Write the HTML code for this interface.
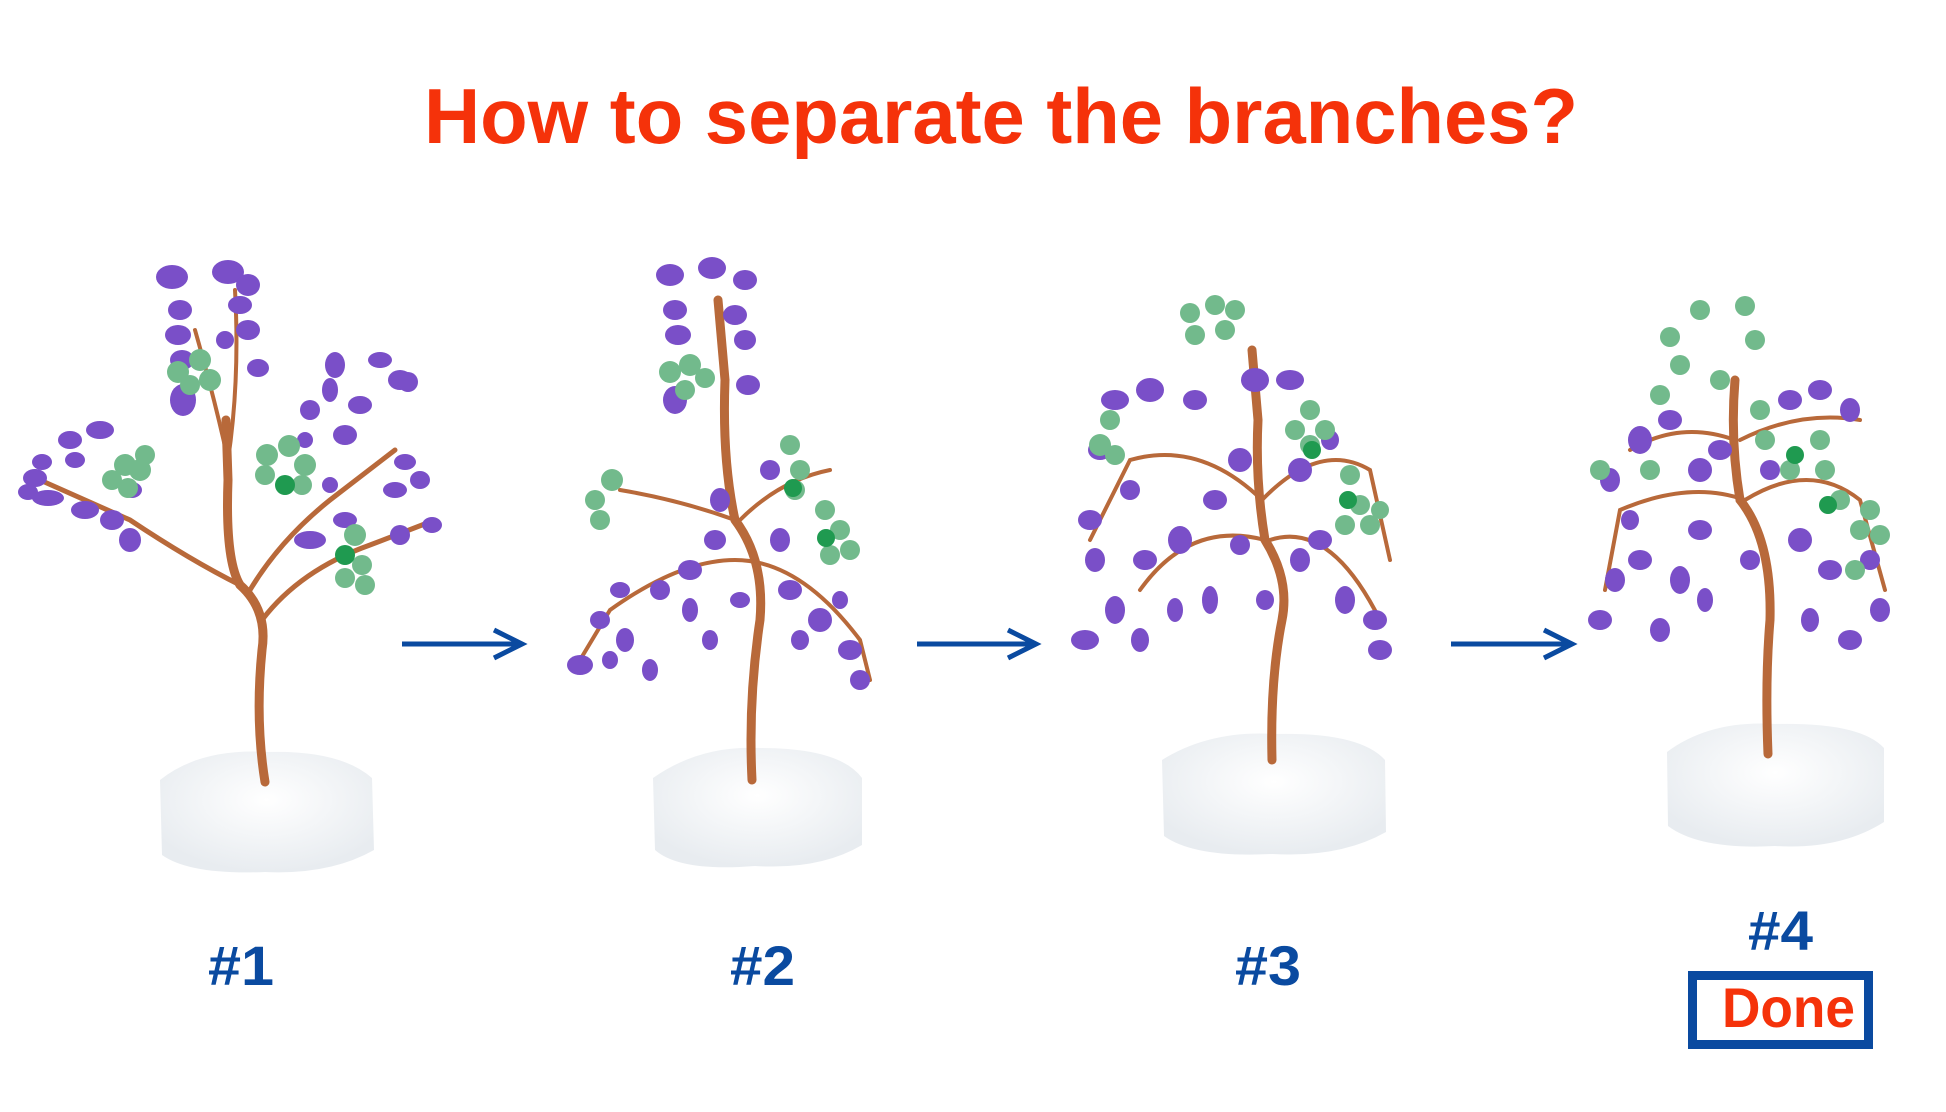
<!DOCTYPE html>
<html><head><meta charset="utf-8"><style>
html,body{margin:0;padding:0;background:#fff;width:1946px;height:1112px;overflow:hidden}
svg{display:block}
</style></head><body>
<svg width="1946" height="1112" viewBox="0 0 1946 1112" xmlns="http://www.w3.org/2000/svg">
<defs>
<radialGradient id="base" cx="50%" cy="40%" r="60%"><stop offset="0" stop-color="#ffffff"/><stop offset="1" stop-color="#e8ecf0"/></radialGradient>
</defs>
<rect width="1946" height="1112" fill="#fff"/>
<text x="424" y="143" font-family="Liberation Sans, sans-serif" font-weight="bold" font-size="78" fill="#f5320a" textLength="1154" lengthAdjust="spacingAndGlyphs">How to separate the branches?</text>

<!-- bases -->
<path d="M160 780 Q200 748 268 752 Q340 750 372 778 L374 850 Q330 875 265 872 Q190 875 162 855 Z" fill="url(#base)"/>
<path d="M653 778 Q700 745 760 748 Q840 748 862 778 L862 845 Q820 870 755 866 Q680 872 655 850 Z" fill="url(#base)"/>
<path d="M1162 760 Q1210 730 1275 734 Q1360 732 1385 760 L1386 832 Q1340 858 1272 854 Q1195 858 1164 836 Z" fill="url(#base)"/>
<path d="M1667 752 Q1710 720 1775 724 Q1860 722 1884 748 L1884 822 Q1840 850 1775 846 Q1700 850 1668 826 Z" fill="url(#base)"/>

<g stroke="#b8693a" fill="none" stroke-linecap="round">
<!-- tree1 -->
<path d="M265 782 Q255 720 262 650 Q268 610 240 585 Q225 560 228 480 L226 420" stroke-width="9"/>
<path d="M240 585 Q190 560 130 520 L40 480" stroke-width="5"/>
<path d="M250 590 Q280 540 330 500 L395 450" stroke-width="5"/>
<path d="M262 620 Q300 570 370 545 L435 520" stroke-width="5"/>
<path d="M228 460 Q215 400 195 330 M228 460 Q240 380 235 290" stroke-width="4"/>
<!-- tree2 -->
<path d="M752 780 Q748 700 760 620 Q765 560 735 520 Q722 460 725 380 L718 300" stroke-width="9"/>
<path d="M735 560 Q680 560 610 610 L580 660 M735 560 Q800 560 860 640 L870 680" stroke-width="4"/>
<path d="M740 520 Q780 480 830 470 M735 520 Q680 500 620 490" stroke-width="4"/>
<!-- tree3 -->
<path d="M1272 760 Q1270 680 1282 620 Q1290 580 1265 540 Q1255 480 1258 420 L1252 350" stroke-width="9"/>
<path d="M1262 500 Q1200 440 1130 460 L1090 540 M1262 500 Q1320 440 1370 470 L1390 560" stroke-width="4"/>
<path d="M1265 540 Q1190 520 1140 590 M1270 540 Q1330 520 1380 620" stroke-width="4"/>
<!-- tree4 -->
<path d="M1768 754 Q1765 680 1770 620 Q1772 540 1740 500 Q1730 440 1735 380" stroke-width="9"/>
<path d="M1745 500 Q1690 480 1620 510 L1605 590 M1745 500 Q1810 460 1860 500 L1885 590" stroke-width="4"/>
<path d="M1735 440 Q1680 420 1630 450 M1740 440 Q1800 410 1860 420" stroke-width="4"/>
</g>

<!-- purple chips -->
<g fill="#7a4fc8">
<!-- tree1 -->
<ellipse cx="172" cy="277" rx="16" ry="12"/><ellipse cx="228" cy="272" rx="16" ry="12"/><ellipse cx="248" cy="285" rx="12" ry="11"/>
<ellipse cx="180" cy="310" rx="12" ry="10"/><ellipse cx="178" cy="335" rx="13" ry="10"/><ellipse cx="182" cy="360" rx="12" ry="10"/>
<ellipse cx="240" cy="305" rx="12" ry="9"/><ellipse cx="248" cy="330" rx="12" ry="10"/><ellipse cx="225" cy="340" rx="9" ry="9"/>
<ellipse cx="183" cy="400" rx="13" ry="16"/><ellipse cx="258" cy="368" rx="11" ry="9"/>
<ellipse cx="70" cy="440" rx="12" ry="9"/><ellipse cx="42" cy="462" rx="10" ry="8"/><ellipse cx="35" cy="478" rx="12" ry="9"/>
<ellipse cx="28" cy="492" rx="10" ry="8"/><ellipse cx="48" cy="498" rx="16" ry="8"/><ellipse cx="85" cy="510" rx="14" ry="9"/>
<ellipse cx="112" cy="520" rx="12" ry="10"/><ellipse cx="130" cy="540" rx="11" ry="12"/><ellipse cx="100" cy="430" rx="14" ry="9"/>
<ellipse cx="75" cy="460" rx="10" ry="8"/><ellipse cx="132" cy="490" rx="10" ry="8"/>
<ellipse cx="335" cy="365" rx="10" ry="13"/><ellipse cx="330" cy="390" rx="8" ry="12"/><ellipse cx="380" cy="360" rx="12" ry="8"/>
<ellipse cx="400" cy="380" rx="12" ry="10"/><ellipse cx="408" cy="382" rx="10" ry="10"/><ellipse cx="360" cy="405" rx="12" ry="9"/>
<ellipse cx="310" cy="410" rx="10" ry="10"/><ellipse cx="345" cy="435" rx="12" ry="10"/><ellipse cx="305" cy="440" rx="8" ry="8"/>
<ellipse cx="405" cy="462" rx="11" ry="8"/><ellipse cx="420" cy="480" rx="10" ry="9"/><ellipse cx="395" cy="490" rx="12" ry="8"/>
<ellipse cx="432" cy="525" rx="10" ry="8"/><ellipse cx="400" cy="535" rx="10" ry="10"/><ellipse cx="310" cy="540" rx="16" ry="9"/>
<ellipse cx="345" cy="520" rx="12" ry="8"/><ellipse cx="330" cy="485" rx="8" ry="8"/>
<!-- tree2 -->
<ellipse cx="670" cy="275" rx="14" ry="11"/><ellipse cx="712" cy="268" rx="14" ry="11"/><ellipse cx="745" cy="280" rx="12" ry="10"/>
<ellipse cx="675" cy="310" rx="12" ry="10"/><ellipse cx="678" cy="335" rx="13" ry="10"/><ellipse cx="735" cy="315" rx="12" ry="10"/>
<ellipse cx="745" cy="340" rx="11" ry="10"/><ellipse cx="675" cy="400" rx="12" ry="14"/><ellipse cx="748" cy="385" rx="12" ry="10"/>
<ellipse cx="580" cy="665" rx="13" ry="10"/><ellipse cx="600" cy="620" rx="10" ry="9"/><ellipse cx="625" cy="640" rx="9" ry="12"/>
<ellipse cx="650" cy="670" rx="8" ry="11"/><ellipse cx="620" cy="590" rx="10" ry="8"/><ellipse cx="660" cy="590" rx="10" ry="10"/>
<ellipse cx="690" cy="570" rx="12" ry="10"/><ellipse cx="690" cy="610" rx="8" ry="12"/><ellipse cx="710" cy="640" rx="8" ry="10"/>
<ellipse cx="720" cy="500" rx="10" ry="12"/><ellipse cx="715" cy="540" rx="11" ry="10"/><ellipse cx="780" cy="540" rx="10" ry="12"/>
<ellipse cx="790" cy="590" rx="12" ry="10"/><ellipse cx="820" cy="620" rx="12" ry="12"/><ellipse cx="800" cy="640" rx="9" ry="10"/>
<ellipse cx="850" cy="650" rx="12" ry="10"/><ellipse cx="860" cy="680" rx="10" ry="10"/><ellipse cx="840" cy="600" rx="8" ry="9"/>
<ellipse cx="770" cy="470" rx="10" ry="10"/><ellipse cx="610" cy="660" rx="8" ry="9"/><ellipse cx="740" cy="600" rx="10" ry="8"/>
<!-- tree3 -->
<ellipse cx="1115" cy="400" rx="14" ry="10"/><ellipse cx="1150" cy="390" rx="14" ry="12"/><ellipse cx="1195" cy="400" rx="12" ry="10"/>
<ellipse cx="1100" cy="450" rx="12" ry="10"/><ellipse cx="1090" cy="520" rx="12" ry="10"/><ellipse cx="1095" cy="560" rx="10" ry="12"/>
<ellipse cx="1085" cy="640" rx="14" ry="10"/><ellipse cx="1115" cy="610" rx="10" ry="14"/><ellipse cx="1140" cy="640" rx="9" ry="12"/>
<ellipse cx="1145" cy="560" rx="12" ry="10"/><ellipse cx="1180" cy="540" rx="12" ry="14"/><ellipse cx="1175" cy="610" rx="8" ry="12"/>
<ellipse cx="1210" cy="600" rx="8" ry="14"/><ellipse cx="1215" cy="500" rx="12" ry="10"/><ellipse cx="1240" cy="460" rx="12" ry="12"/>
<ellipse cx="1255" cy="380" rx="14" ry="12"/><ellipse cx="1290" cy="380" rx="14" ry="10"/><ellipse cx="1300" cy="470" rx="12" ry="12"/>
<ellipse cx="1320" cy="540" rx="12" ry="10"/><ellipse cx="1300" cy="560" rx="10" ry="12"/><ellipse cx="1345" cy="600" rx="10" ry="14"/>
<ellipse cx="1375" cy="620" rx="12" ry="10"/><ellipse cx="1380" cy="650" rx="12" ry="10"/><ellipse cx="1265" cy="600" rx="9" ry="10"/>
<ellipse cx="1240" cy="545" rx="10" ry="10"/><ellipse cx="1130" cy="490" rx="10" ry="10"/><ellipse cx="1330" cy="440" rx="9" ry="10"/>
<!-- tree4 -->
<ellipse cx="1640" cy="440" rx="12" ry="14"/><ellipse cx="1670" cy="420" rx="12" ry="10"/><ellipse cx="1610" cy="480" rx="10" ry="12"/>
<ellipse cx="1600" cy="620" rx="12" ry="10"/><ellipse cx="1615" cy="580" rx="10" ry="12"/><ellipse cx="1640" cy="560" rx="12" ry="10"/>
<ellipse cx="1660" cy="630" rx="10" ry="12"/><ellipse cx="1680" cy="580" rx="10" ry="14"/><ellipse cx="1700" cy="530" rx="12" ry="10"/>
<ellipse cx="1705" cy="600" rx="8" ry="12"/><ellipse cx="1720" cy="450" rx="12" ry="10"/><ellipse cx="1700" cy="470" rx="12" ry="12"/>
<ellipse cx="1790" cy="400" rx="12" ry="10"/><ellipse cx="1820" cy="390" rx="12" ry="10"/><ellipse cx="1850" cy="410" rx="10" ry="12"/>
<ellipse cx="1800" cy="540" rx="12" ry="12"/><ellipse cx="1830" cy="570" rx="12" ry="10"/><ellipse cx="1810" cy="620" rx="9" ry="12"/>
<ellipse cx="1850" cy="640" rx="12" ry="10"/><ellipse cx="1880" cy="610" rx="10" ry="12"/><ellipse cx="1870" cy="560" rx="10" ry="10"/>
<ellipse cx="1750" cy="560" rx="10" ry="10"/><ellipse cx="1630" cy="520" rx="9" ry="10"/><ellipse cx="1770" cy="470" rx="10" ry="10"/>
</g>

<!-- green beads -->
<g fill="#72ba8c">
<circle cx="178" cy="372" r="11"/><circle cx="200" cy="360" r="11"/><circle cx="210" cy="380" r="11"/><circle cx="190" cy="385" r="10"/>
<circle cx="125" cy="465" r="11"/><circle cx="140" cy="470" r="11"/><circle cx="145" cy="455" r="10"/><circle cx="112" cy="480" r="10"/><circle cx="128" cy="488" r="10"/>
<circle cx="267" cy="455" r="11"/><circle cx="289" cy="446" r="11"/><circle cx="305" cy="465" r="11"/><circle cx="265" cy="475" r="10"/><circle cx="302" cy="485" r="10"/>
<circle cx="355" cy="535" r="11"/><circle cx="362" cy="565" r="10"/><circle cx="345" cy="578" r="10"/><circle cx="365" cy="585" r="10"/>
<circle cx="670" cy="372" r="11"/><circle cx="690" cy="365" r="11"/><circle cx="705" cy="378" r="10"/><circle cx="685" cy="390" r="10"/>
<circle cx="612" cy="480" r="11"/><circle cx="595" cy="500" r="10"/><circle cx="600" cy="520" r="10"/>
<circle cx="790" cy="445" r="10"/><circle cx="800" cy="470" r="10"/><circle cx="795" cy="490" r="10"/><circle cx="825" cy="510" r="10"/><circle cx="840" cy="530" r="10"/><circle cx="850" cy="550" r="10"/><circle cx="830" cy="555" r="10"/>
<circle cx="1190" cy="313" r="10"/><circle cx="1215" cy="305" r="10"/><circle cx="1235" cy="310" r="10"/><circle cx="1225" cy="330" r="10"/><circle cx="1195" cy="335" r="10"/>
<circle cx="1110" cy="420" r="10"/><circle cx="1100" cy="445" r="11"/><circle cx="1115" cy="455" r="10"/>
<circle cx="1310" cy="410" r="10"/><circle cx="1325" cy="430" r="10"/><circle cx="1295" cy="430" r="10"/><circle cx="1310" cy="445" r="10"/>
<circle cx="1350" cy="475" r="10"/><circle cx="1360" cy="505" r="10"/><circle cx="1345" cy="525" r="10"/><circle cx="1370" cy="525" r="10"/><circle cx="1380" cy="510" r="9"/>
<circle cx="1700" cy="310" r="10"/><circle cx="1745" cy="306" r="10"/><circle cx="1670" cy="337" r="10"/><circle cx="1755" cy="340" r="10"/><circle cx="1720" cy="380" r="10"/><circle cx="1680" cy="365" r="10"/>
<circle cx="1600" cy="470" r="10"/><circle cx="1650" cy="470" r="10"/><circle cx="1660" cy="395" r="10"/>
<circle cx="1760" cy="410" r="10"/><circle cx="1765" cy="440" r="10"/><circle cx="1790" cy="470" r="10"/><circle cx="1820" cy="440" r="10"/><circle cx="1825" cy="470" r="10"/>
<circle cx="1840" cy="500" r="10"/><circle cx="1860" cy="530" r="10"/><circle cx="1880" cy="535" r="10"/><circle cx="1855" cy="570" r="10"/><circle cx="1870" cy="510" r="10"/>
</g>
<g fill="#1f9a50">
<circle cx="285" cy="485" r="10"/><circle cx="345" cy="555" r="10"/><circle cx="793" cy="488" r="9"/><circle cx="826" cy="538" r="9"/>
<circle cx="1312" cy="450" r="9"/><circle cx="1348" cy="500" r="9"/><circle cx="1795" cy="455" r="9"/><circle cx="1828" cy="505" r="9"/>
</g>

<!-- arrows -->
<g stroke="#0a4aa0" stroke-width="5" fill="none" stroke-linejoin="miter">
<path d="M402 644 H522"/><path d="M494 630 L522 644 L494 658"/>
<path d="M917 644 H1036"/><path d="M1008 630 L1036 644 L1008 658"/>
<path d="M1451 644 H1572"/><path d="M1544 630 L1572 644 L1544 658"/>
</g>

<g font-family="Liberation Sans, sans-serif" font-weight="bold" font-size="56" fill="#0a4aa0">
<text x="208" y="985" textLength="66" lengthAdjust="spacingAndGlyphs">#1</text>
<text x="730" y="985" textLength="65" lengthAdjust="spacingAndGlyphs">#2</text>
<text x="1235" y="985" textLength="66" lengthAdjust="spacingAndGlyphs">#3</text>
<text x="1748" y="950" textLength="65" lengthAdjust="spacingAndGlyphs">#4</text>
</g>
<rect x="1692.5" y="975.5" width="176" height="69" fill="#fff" stroke="#0a4aa0" stroke-width="9"/>
<text x="1722" y="1027" font-family="Liberation Sans, sans-serif" font-weight="bold" font-size="56" fill="#f5320a" textLength="133" lengthAdjust="spacingAndGlyphs">Done</text>
</svg>
</body></html>
